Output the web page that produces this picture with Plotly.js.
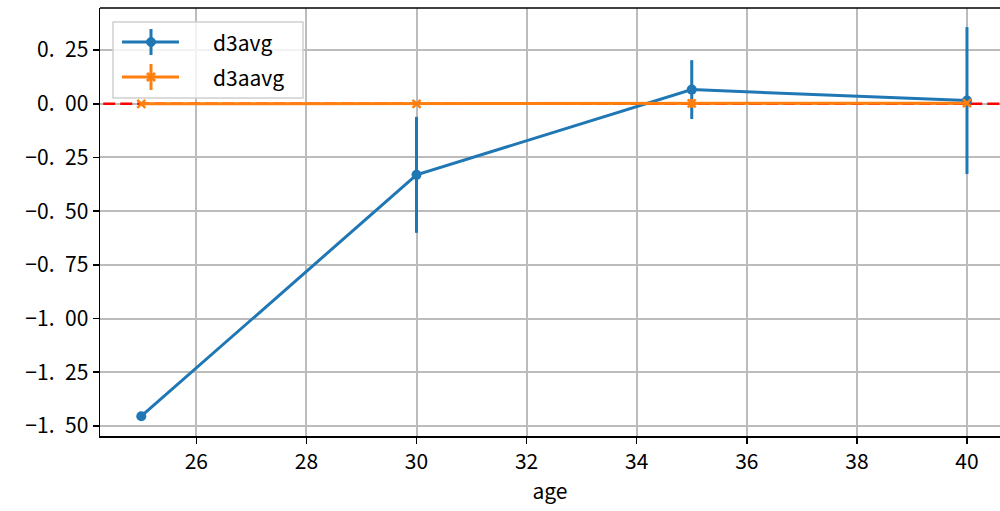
<!DOCTYPE html>
<html>
<head>
<meta charset="utf-8">
<script src="https://cdn.plot.ly/plotly-3.0.1.min.js"></script>
<style>html,body{margin:0;padding:0;background:#fff;}#chart{width:1000px;height:511px;}</style>
</head>
<body>
<div id="chart"></div>
<script>
const ages = [25, 30, 35, 40];
const d3avg = [-1.455, -0.331, 0.066, 0.015];
const d3avgErr = [0.0, 0.27, 0.137, 0.342];
const d3aavg = [0.0, 0.0, 0.002, 0.003];
const d3aavgErr = [0.005, 0.01, 0.02, 0.01];
const seriesNames = ['d3avg', 'd3aavg'];
const seriesColors = ['#1f77b4', '#ff7f0e'];
const yTickVals = [0.25, 0, -0.25, -0.5, -0.75, -1.0, -1.25, -1.5];
const yTickText = ['0.\u200225', '0.\u200200', '\u22120.\u200225', '\u22120.\u200250', '\u22120.\u200275', '\u22121.\u200200', '\u22121.\u200225', '\u22121.\u200250'];
const xTickVals = [26, 28, 30, 32, 34, 36, 38, 40];

const font = "'Noto Sans CJK JP', 'DejaVu Sans', sans-serif";

const traces = [
  {
    x: [24.0, 41.0], y: [0, 0], mode: 'lines', showlegend: false, hoverinfo: 'skip',
    line: {color: 'red', width: 2.5, dash: '12px,5px'}
  },
  {
    x: ages, y: d3avg, name: seriesNames[0], mode: 'lines+markers',
    line: {color: seriesColors[0], width: 3},
    marker: {color: seriesColors[0], size: 10, symbol: 'circle'},
    error_y: {type: 'data', array: d3avgErr, visible: true, color: seriesColors[0], thickness: 3, width: 0}
  },
  {
    x: ages, y: d3aavg, name: seriesNames[1], mode: 'lines+markers',
    line: {color: seriesColors[1], width: 3},
    marker: {color: seriesColors[1], size: 8, symbol: 'x-thin', line: {color: seriesColors[1], width: 2.5}},
    error_y: {type: 'data', array: d3aavgErr, visible: true, color: seriesColors[1], thickness: 3, width: 0}
  }
];

// manual legend (matplotlib style with errorbar glyph)
function px(x) { return (x - 100) / 900; }
function py(y) { return (436 - y) / 428; }
const shapes = [
  {type: 'line', xref: 'paper', yref: 'paper', x0: 0, x1: 1, y0: 1, y1: 1, line: {color: '#000', width: 1.5}},
  {type: 'rect', xref: 'paper', yref: 'paper', x0: px(113), x1: px(303), y0: py(98), y1: py(22),
   line: {color: '#d0d0d0', width: 1.5}, fillcolor: 'rgba(255,255,255,0.8)'}
];
const annotations = [];
const rowsY = [42, 77];
seriesNames.forEach((nm, i) => {
  const c = seriesColors[i];
  const yy = rowsY[i];
  shapes.push({type: 'line', xref: 'paper', yref: 'paper', x0: px(122), x1: px(179), y0: py(yy), y1: py(yy), line: {color: c, width: 3}});
  shapes.push({type: 'line', xref: 'paper', yref: 'paper', x0: px(151), x1: px(151), y0: py(yy - 13), y1: py(yy + 13), line: {color: c, width: 3}});
  if (i === 0) {
    shapes.push({type: 'circle', xref: 'paper', yref: 'paper', x0: px(146.5), x1: px(155.5), y0: py(yy + 4.5), y1: py(yy - 4.5), line: {color: c, width: 1}, fillcolor: c});
  } else {
    shapes.push({type: 'line', xref: 'paper', yref: 'paper', x0: px(147), x1: px(155), y0: py(yy - 4), y1: py(yy + 4), line: {color: c, width: 3}});
    shapes.push({type: 'line', xref: 'paper', yref: 'paper', x0: px(147), x1: px(155), y0: py(yy + 4), y1: py(yy - 4), line: {color: c, width: 3}});
  }
  annotations.push({xref: 'paper', yref: 'paper', x: px(211), y: py(yy), xanchor: 'left', yanchor: 'middle',
    text: nm, showarrow: false, font: {family: font, size: 21, color: '#000'}});
});

const layout = {
  width: 1000, height: 511,
  margin: {l: 100, r: 0, t: 8, b: 75},
  paper_bgcolor: '#fff', plot_bgcolor: '#fff',
  font: {family: font, size: 21, color: '#000'},
  showlegend: false,
  xaxis: {
    range: [24.25, 40.6], tickvals: xTickVals,
    showgrid: true, gridcolor: '#bcbcbc', gridwidth: 2,
    showline: true, linecolor: '#000', linewidth: 1.5,
    ticks: 'outside', ticklen: 6, tickwidth: 1.5, tickcolor: '#000',
    zeroline: false,
    title: {text: 'age', font: {family: font, size: 21, color: '#000'}, standoff: 6},
    tickfont: {family: font, size: 21, color: '#000'}
  },
  yaxis: {
    range: [-1.547, 0.446], tickvals: yTickVals, ticktext: yTickText,
    showgrid: true, gridcolor: '#bcbcbc', gridwidth: 2,
    showline: true, linecolor: '#000', linewidth: 1.5,
    ticks: 'outside', ticklen: 6, tickwidth: 1.5, tickcolor: '#000',
    zeroline: false,
    tickfont: {family: font, size: 21, color: '#000'}
  },
  shapes: shapes,
  annotations: annotations
};

Plotly.newPlot('chart', traces, layout, {displayModeBar: false, staticPlot: true});
</script>
</body>
</html>
